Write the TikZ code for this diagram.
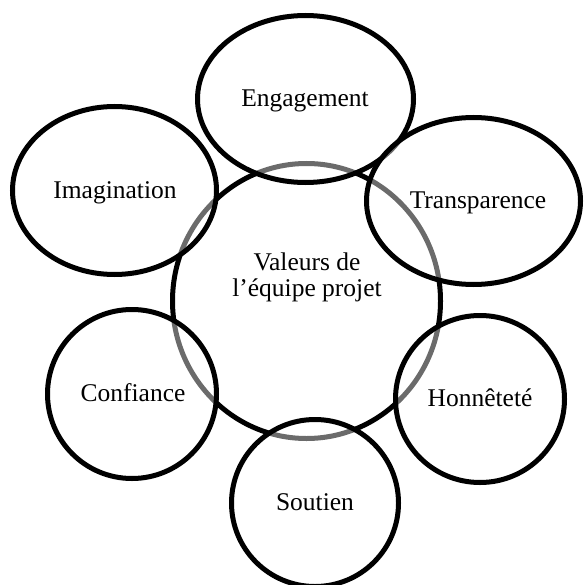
\documentclass[tikz,border=0pt]{standalone}
\usepackage{fontspec}
\setmainfont{Liberation Serif}
\usetikzlibrary{shapes.geometric}
\tikzset{
  ring/.style={draw=black, line width=5pt, ellipse, inner sep=0pt, outer sep=0pt,
    fill=white, fill opacity=0.42, draw opacity=1},
  core/.style={draw=black, line width=5pt, ellipse, inner sep=0pt, outer sep=0pt},
  lbl/.style={anchor=base, inner sep=0pt, align=center,
    font=\fontsize{25.5}{26}\selectfont, text=black}
}
\begin{document}
\begin{tikzpicture}[x=1pt, y=-1pt]
\useasboundingbox (0,0) rectangle (583,585);
\node[core, minimum width=268pt, minimum height=275pt] (c) at (306.5,301) {};
\node[ring, minimum width=216pt, minimum height=167pt] (eng) at (305.5,99) {};
\node[ring, minimum width=204pt, minimum height=168pt] (ima) at (114.5,190.5) {};
\node[ring, minimum width=214pt, minimum height=167pt] (tra) at (473.5,201) {};
\node[ring, minimum width=169pt, minimum height=169pt] (con) at (132,394) {};
\node[ring, minimum width=169pt, minimum height=167pt] (hon) at (480,399) {};
\node[ring, minimum width=167pt, minimum height=167pt] (sou) at (315,503) {};
\node[lbl] (ct) at (307,296) {Valeurs de\\l’équipe projet};
\node[lbl] (engt) at (305,107) {Engagement};
\node[lbl] (imat) at (115,198) {Imagination};
\node[lbl] (trat) at (478,208) {Transparence};
\node[lbl] (cont) at (133,401) {Confiance};
\node[lbl] (hont) at (480,406) {Honnêteté};
\node[lbl] (sout) at (315,510) {Soutien};
\end{tikzpicture}
\end{document}
